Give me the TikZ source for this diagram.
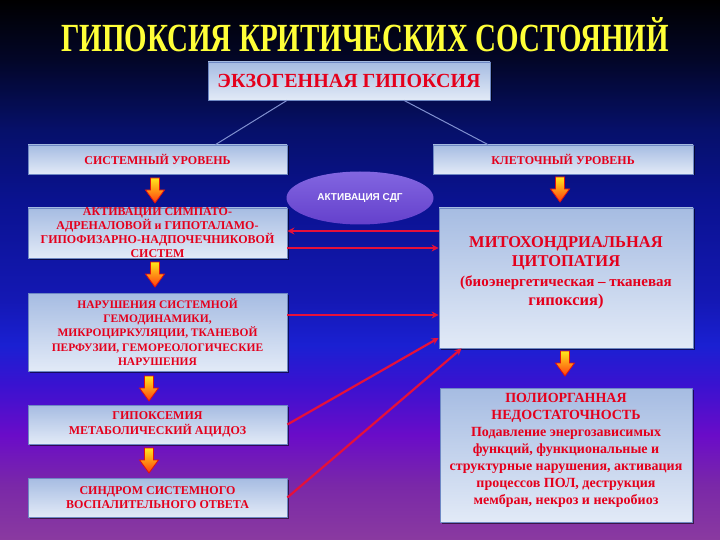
\documentclass[tikz,border=0pt]{standalone}
\usepackage{fontspec}
\setmainfont{Liberation Serif}
\newfontfamily\sdgfont{Liberation Sans}
\usetikzlibrary{shapes.geometric,shadows,arrows.meta}
\definecolor{bg0}{HTML}{8A3AA0}
\definecolor{bg1}{HTML}{7A28A8}
\definecolor{bg2}{HTML}{6A0CC8}
\definecolor{bg3}{HTML}{3A12D0}
\definecolor{bg4}{HTML}{1A20D2}
\definecolor{bg5}{HTML}{1418B4}
\definecolor{bg6}{HTML}{0A1290}
\definecolor{bg7}{HTML}{06106A}
\definecolor{bg8}{HTML}{030628}
\definecolor{bg9}{HTML}{000000}
\definecolor{boxtop}{HTML}{A6BCE2}
\definecolor{boxbot}{HTML}{E2EAF7}
\definecolor{boxline}{HTML}{6E88C4}
\definecolor{txtred}{HTML}{E4001C}
\definecolor{linkred}{HTML}{E6103A}
\definecolor{thinline}{HTML}{8090D0}
\definecolor{titleyel}{HTML}{FFFF38}
\definecolor{arrtop}{HTML}{FFE81A}
\definecolor{arrbot}{HTML}{FF3A10}
\definecolor{arrline}{HTML}{E01010}
\definecolor{sdgtop}{HTML}{8266E0}
\definecolor{sdgbot}{HTML}{6440CC}
\pgfdeclareverticalshading{bgshade}{100bp}{color(0bp)=(bg0); color(25bp)=(bg0); color(30.1bp)=(bg1); color(34.7bp)=(bg2); color(39.35bp)=(bg3); color(43.05bp)=(bg4); color(47.2bp)=(bg5); color(56.5bp)=(bg6); color(62.95bp)=(bg7); color(69.45bp)=(bg8); color(75bp)=(bg9); color(100bp)=(bg9)}
\newcommand\mitobig{\fontsize{16.5}{19.5}\selectfont}
\newcommand\mitosmall{\fontsize{15}{19}\selectfont}
\begin{document}
\begin{tikzpicture}[x=1pt,y=-1pt,
  box/.style={draw=boxline, line width=0.8pt, top color=boxtop, bottom color=boxbot,
    inner sep=0pt, align=center, text=txtred,
    drop shadow={shadow xshift=1.5pt, shadow yshift=-1.5pt, opacity=0.55, fill=black}},
  smallbox/.style={box, minimum width=259pt},
  thin/.style={draw=thinline, line width=1pt},
  redlink/.style={draw=linkred, line width=2.2pt, -{Stealth[length=7pt,width=7pt]}},
  blockarr/.pic={\shade[top color=arrtop, bottom color=arrbot, draw=arrline, line width=0.8pt]
     (-4.5,0) -- (4.5,0) -- (4.5,12) -- (9.5,12) -- (0,25) -- (-9.5,12) -- (-4.5,12) -- cycle;}
  ]
\useasboundingbox (0,0) rectangle (720,540);
\shade[shading=bgshade] (0,0) rectangle (720,540);

% title
\node[text=titleyel, font=\bfseries\fontsize{42}{42}\selectfont] (title) at (365,35)
  {\scalebox{0.69}[0.95]{ГИПОКСИЯ КРИТИЧЕСКИХ СОСТОЯНИЙ}};

% boxes
\node[box, minimum width=282pt, minimum height=38pt, font=\bfseries\fontsize{20}{22}\selectfont] (ekz) at (349,81) {ЭКЗОГЕННАЯ ГИПОКСИЯ};
\node[smallbox, minimum height=29pt, font=\bfseries\fontsize{12}{14}\selectfont] (sys) at (157.5,159.5) {СИСТЕМНЫЙ УРОВЕНЬ};
\node[box, minimum width=260pt, minimum height=29pt, font=\bfseries\fontsize{12}{14}\selectfont] (kl) at (563,159.5) {КЛЕТОЧНЫЙ УРОВЕНЬ};
\node[smallbox, minimum height=50pt, font=\bfseries\fontsize{12}{14}\selectfont] (act) at (157.5,233)
  {АКТИВАЦИИ СИМПАТО-\\АДРЕНАЛОВОЙ и ГИПОТАЛАМО-\\ГИПОФИЗАРНО-НАДПОЧЕЧНИКОВОЙ\\СИСТЕМ};
\node[smallbox, minimum height=78pt, font=\bfseries\fontsize{11.5}{14.3}\selectfont] (nar) at (157.5,332)
  {НАРУШЕНИЯ СИСТЕМНОЙ\\ГЕМОДИНАМИКИ,\\МИКРОЦИРКУЛЯЦИИ, ТКАНЕВОЙ\\ПЕРФУЗИИ, ГЕМОРЕОЛОГИЧЕСКИЕ\\НАРУШЕНИЯ};
\node[smallbox, minimum height=39pt, font=\bfseries\fontsize{12}{15}\selectfont] (gip) at (157.5,424.5)
  {ГИПОКСЕМИЯ\\МЕТАБОЛИЧЕСКИЙ АЦИДОЗ};
\node[smallbox, minimum height=39pt, font=\bfseries\fontsize{12}{14.5}\selectfont] (sind) at (157.5,497.5)
  {СИНДРОМ СИСТЕМНОГО\\ВОСПАЛИТЕЛЬНОГО ОТВЕТА};
\node[box, minimum width=254pt, minimum height=140pt] (mito) at (566,278) {};
\node[text=txtred, align=center, inner sep=0pt, font=\bfseries\mitobig] (mitotext) at (566,273)
  {МИТОХОНДРИАЛЬНАЯ\\ЦИТОПАТИЯ\\\mitosmall (биоэнергетическая – тканевая\\гипоксия)};
\node[box, minimum width=252pt, minimum height=134pt] (poly) at (566,455) {};
\node[text=txtred, align=center, inner sep=0pt, font=\bfseries\fontsize{14}{17}\selectfont] (polytext) at (566,450)
  {ПОЛИОРГАННАЯ\\НЕДОСТАТОЧНОСТЬ\\Подавление энергозависимых\\функций, функциональные и\\структурные нарушения, активация\\процессов ПОЛ, деструкция\\мембран, некроз и некробиоз};

% ellipse
\node[ellipse, top color=sdgtop, bottom color=sdgbot, minimum width=147pt, minimum height=53pt,
  inner sep=0pt, text=white, font=\sdgfont\bfseries\fontsize{10}{12}\selectfont] (sdg) at (360,198) {АКТИВАЦИЯ СДГ};

% thin links
\draw[thin] ([xshift=-62pt]ekz.south) -- ([xshift=58pt]sys.north);
\draw[thin] ([xshift=55pt]ekz.south) -- ([xshift=-75pt]kl.north);

% block arrows
\pic at (155,178) {blockarr};
\pic at (560,177) {blockarr};
\pic at (155,262) {blockarr};
\pic at (149,376) {blockarr};
\pic at (149,448) {blockarr};
\pic at (565,351) {blockarr};

% red links
\draw[redlink] ([yshift=47pt]mito.west) -- ([yshift=2pt]act.east);
\draw[redlink] ([yshift=-15pt]act.east) -- ([yshift=30pt]mito.west);
\draw[redlink] ([yshift=17pt]nar.east) -- ([yshift=-37pt]mito.west);
\draw[redlink] (gip.east) -- ([yshift=-60pt]mito.west);
\draw[redlink] (sind.east) -- ([xshift=23pt]mito.south west);
\end{tikzpicture}
\end{document}
